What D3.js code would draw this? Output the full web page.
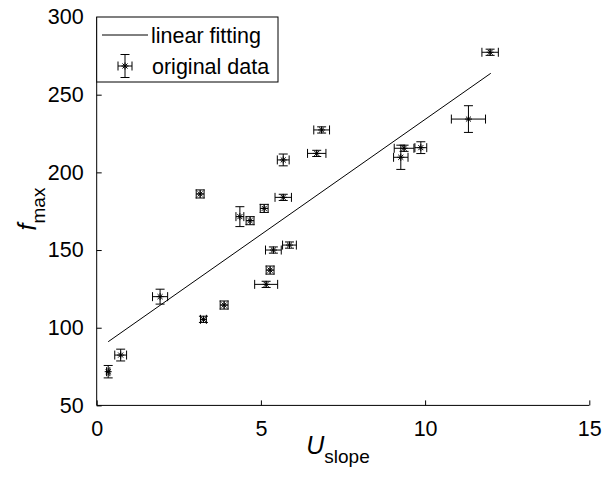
<!DOCTYPE html>
<html>
<head>
<meta charset="utf-8">
<script src="https://cdn.jsdelivr.net/npm/d3@7"></script>
<style>
  body { margin: 0; background: #fff; }
  text { font-family: "Liberation Sans", Arial, sans-serif; fill: #000; }
</style>
</head>
<body>
<script>
// measured values (U_slope, f_max) with their errors
var uSlope = [0.35, 0.73, 1.93, 3.15, 3.25, 3.88, 4.36, 4.67, 5.10, 5.16, 5.28, 5.38, 5.68, 5.68, 5.87, 6.70, 6.85, 9.26, 9.36, 9.87, 11.32, 11.98];
var fMax   = [71.7, 82.4, 120.0, 186.1, 105.4, 114.6, 171.5, 168.9, 176.8, 127.9, 137.1, 150.0, 208.0, 183.9, 153.2, 212.2, 227.3, 209.7, 215.5, 215.9, 234.3, 277.3];
var uErr   = [0.05, 0.18, 0.23, 0.12, 0.09, 0.12, 0.12, 0.12, 0.12, 0.35, 0.12, 0.24, 0.18, 0.25, 0.21, 0.28, 0.24, 0.22, 0.30, 0.18, 0.52, 0.25];
var fErr   = [4.0, 3.8, 4.8, 2.6, 2.0, 2.6, 6.4, 2.6, 2.6, 2.0, 2.6, 2.0, 3.8, 2.0, 2.0, 2.0, 2.0, 7.8, 2.0, 3.8, 8.6, 2.0];

// linear fit
var fitRange = [0.35, 12.0];
var fitSlope = 14.83, fitIntercept = 85.8;

var xTicks = [0, 5, 10, 15];
var yTicks = [50, 100, 150, 200, 250, 300];

var width = 611, height = 477;
var mLeft = 96.7, mRight = 589.3, mTop = 17, mBottom = 405.4;
var cap = 4.5, star = 3.5;

var svg = d3.select('body').append('svg')
    .attr('width', width)
    .attr('height', height);

var x = d3.scaleLinear().domain([0, 15]).range([mLeft, mRight]);
var y = d3.scaleLinear().domain([50, 300]).range([mBottom, mTop]);

// axes with inward ticks
var xAxis = svg.append('g')
    .attr('transform', 'translate(0,' + mBottom + ')')
    .call(d3.axisBottom(x).tickValues(xTicks).tickSize(-5).tickPadding(15).tickFormat(d3.format('d')));
var yAxis = svg.append('g')
    .attr('transform', 'translate(' + mLeft + ',0)')
    .call(d3.axisLeft(y).tickValues(yTicks).tickSize(-5).tickPadding(13).tickFormat(d3.format('d')));

[xAxis, yAxis].forEach(function(a) {
    a.select('.domain').remove();
    a.selectAll('.tick line').attr('stroke', '#000');
    a.selectAll('text').attr('font-size', '21.5px').attr('fill', '#000')
        .style('font-family', '"Liberation Sans", Arial, sans-serif');
});
svg.append('line').attr('x1', mLeft).attr('x2', mRight).attr('y1', mBottom).attr('y2', mBottom).attr('stroke', '#000');
svg.append('line').attr('x1', mLeft).attr('x2', mLeft).attr('y1', mTop).attr('y2', mBottom).attr('stroke', '#000');

var pts = uSlope.map(function(u, i) {
    return { u: u, f: fMax[i], du: uErr[i], df: fErr[i] };
});

// fitted line
svg.append('line')
    .attr('x1', x(fitRange[0])).attr('y1', y(fitSlope * fitRange[0] + fitIntercept))
    .attr('x2', x(fitRange[1])).attr('y2', y(fitSlope * fitRange[1] + fitIntercept))
    .attr('stroke', '#000').attr('stroke-width', 1);

function errMark(g, cx, cy, x0, x1, y0, y1) {
    var p = 'M' + cx + ',' + y0 + 'V' + y1 +
        'M' + (cx - cap) + ',' + y0 + 'H' + (cx + cap) +
        'M' + (cx - cap) + ',' + y1 + 'H' + (cx + cap) +
        'M' + x0 + ',' + cy + 'H' + x1 +
        'M' + x0 + ',' + (cy - cap) + 'V' + (cy + cap) +
        'M' + x1 + ',' + (cy - cap) + 'V' + (cy + cap);
    var s = star, d = s * 0.72;
    p += 'M' + (cx - s) + ',' + cy + 'H' + (cx + s) +
        'M' + cx + ',' + (cy - s) + 'V' + (cy + s) +
        'M' + (cx - d) + ',' + (cy - d) + 'L' + (cx + d) + ',' + (cy + d) +
        'M' + (cx - d) + ',' + (cy + d) + 'L' + (cx + d) + ',' + (cy - d);
    g.append('path').attr('d', p).attr('fill', 'none').attr('stroke', '#000').attr('stroke-width', 1);
}

var marks = svg.append('g');
pts.forEach(function(d) {
    errMark(marks, x(d.u), y(d.f), x(d.u - d.du), x(d.u + d.du), y(d.f + d.df), y(d.f - d.df));
});

// axis labels
var xl = svg.append('text').attr('x', 338).attr('y', 454).attr('text-anchor', 'middle');
xl.append('tspan').attr('font-size', '25px').attr('font-style', 'italic').text('U');
xl.append('tspan').attr('font-size', '19px').attr('dy', 9).text('slope');

var yl = svg.append('text').attr('transform', 'translate(36,209) rotate(-90)').attr('text-anchor', 'middle');
yl.append('tspan').attr('font-size', '25px').attr('font-style', 'italic').text('f');
yl.append('tspan').attr('font-size', '19px').attr('dy', 9).text('max');

// legend
var lg = svg.append('g');
lg.append('rect').attr('x', mLeft).attr('y', mTop).attr('width', 278 - mLeft).attr('height', 82 - mTop)
    .attr('fill', '#fff').attr('stroke', '#000').attr('stroke-width', 1);
lg.append('line').attr('x1', 102).attr('x2', 148).attr('y1', 35).attr('y2', 35).attr('stroke', '#000');
lg.append('text').attr('x', 151).attr('y', 43).attr('font-size', '21.5px').text('linear fitting');
errMark(lg, 125, 66, 118, 132, 54.5, 77.5);
lg.append('text').attr('x', 152).attr('y', 74).attr('font-size', '21.5px').text('original data');
</script>
</body>
</html>
